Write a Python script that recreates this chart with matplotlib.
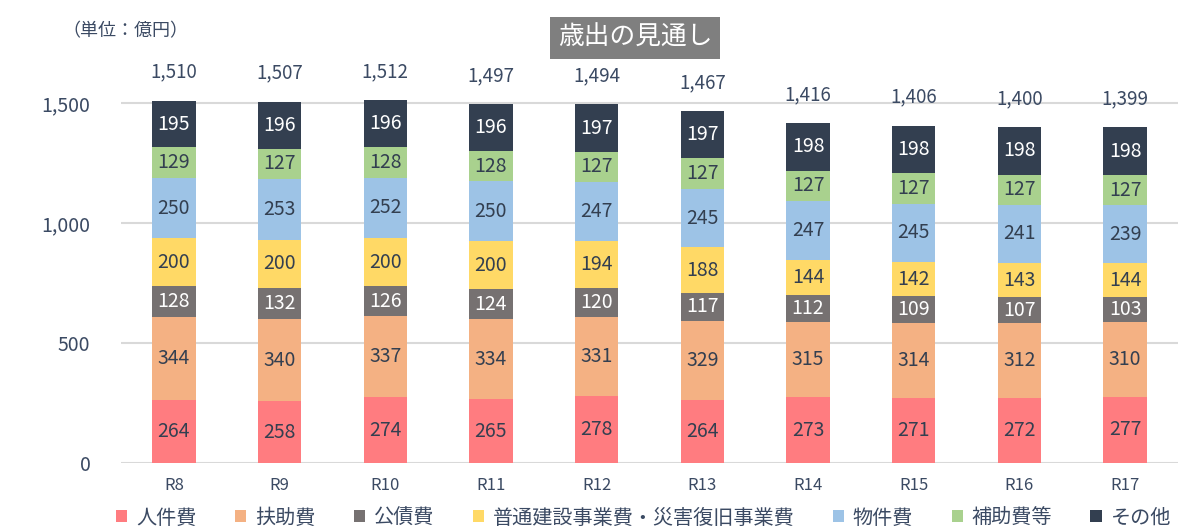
import matplotlib
matplotlib.use("Agg")
import matplotlib.pyplot as plt
import numpy as np

plt.rcParams['font.family'] = ['Noto Sans CJK JP', 'DejaVu Sans']

years = ["R8", "R9", "R10", "R11", "R12", "R13", "R14", "R15", "R16", "R17"]
series_names = ["人件費", "扶助費", "公債費", "普通建設事業費・災害復旧事業費", "物件費", "補助費等", "その他"]
jinkenhi = [264, 258, 274, 265, 278, 264, 273, 271, 272, 277]
fujohi = [344, 340, 337, 334, 331, 329, 315, 314, 312, 310]
kosaihi = [128, 132, 126, 124, 120, 117, 112, 109, 107, 103]
futsu_kensetsu = [200, 200, 200, 200, 194, 188, 144, 142, 143, 144]
bukkenhi = [250, 253, 252, 250, 247, 245, 247, 245, 241, 239]
hojohi = [129, 127, 128, 128, 127, 127, 127, 127, 127, 127]
sonota = [195, 196, 196, 196, 197, 197, 198, 198, 198, 198]
totals = [1510, 1507, 1512, 1497, 1494, 1467, 1416, 1406, 1400, 1399]

colors = ["#FF7C80", "#F4B183", "#767171", "#FFD966", "#9DC3E6", "#A9D18E", "#333F50"]
label_colors = ["#333F50", "#333F50", "white", "#333F50", "#333F50", "#333F50", "white"]
text_col = "#3B4A63"

W, H = 1203, 527
fig = plt.figure(figsize=(W / 100, H / 100), dpi=100)
ax_left, ax_right = 121 / W, 1178 / W
ax_bottom = (H - 463) / H
ymax = 1700
ax_top_px = 463 - ymax * 0.24
ax = fig.add_axes([ax_left, ax_bottom, ax_right - ax_left, (463 - ax_top_px) / H])

x = np.arange(len(years))
data = [jinkenhi, fujohi, kosaihi, futsu_kensetsu, bukkenhi, hojohi, sonota]
bottom = np.zeros(len(years))
handles = []
for vals, c, lc, name in zip(data, colors, label_colors, series_names):
    vals = np.array(vals, dtype=float)
    b = ax.bar(x, vals, 0.41, bottom=bottom, color=c, label=name, zorder=3)
    handles.append(b)
    for xi, v, bt in zip(x, vals, bottom):
        ax.text(xi, bt + v / 2, f"{int(v)}", ha="center", va="center",
                color=lc, fontsize=14, zorder=4)
    bottom += vals

for xi, t, top in zip(x, totals, bottom):
    ax.text(xi, top + 118, f"{t:,}", ha="center", va="center", color=text_col, fontsize=13.5)

ax.set_xlim(-0.5, len(years) - 0.5)
ax.set_ylim(0, ymax)
ax.set_yticks([0, 500, 1000, 1500])
ax.set_yticklabels(["0", "500", "1,000", "1,500"])
ax.set_xticks(x)
ax.set_xticklabels(years)
ax.yaxis.grid(True, color="#D9D9D9", linewidth=1.5, zorder=0)
ax.set_axisbelow(True)
for s in ax.spines.values():
    s.set_visible(False)
ax.tick_params(axis="y", length=0, pad=22, labelsize=14, labelcolor=text_col)
ax.tick_params(axis="x", length=0, pad=10, labelsize=12, labelcolor=text_col)

fig.text(62 / W, 1 - 31 / H, "（単位：億円）", fontsize=13, color=text_col, ha="left", va="center")
fig.text(635 / W, 1 - 38 / H, "歳出の見通し", fontsize=18.5, color="white", ha="center", va="center",
         bbox=dict(boxstyle="square,pad=0.3", facecolor="#7F7F7F", edgecolor="none"))

fig.legend(handles=handles, labels=series_names, loc="center", bbox_to_anchor=(0.535, 9 / H),
           ncol=7, frameon=False, fontsize=14.5, handlelength=0.55, handleheight=0.55,
           handletextpad=0.45, columnspacing=1.9, labelcolor=text_col)

fig.savefig("out.png", dpi=100)
